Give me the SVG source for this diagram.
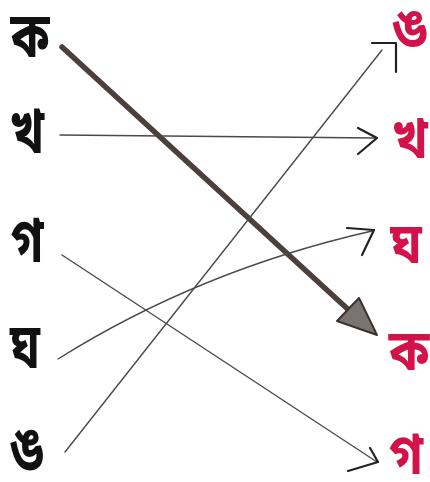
<svg xmlns="http://www.w3.org/2000/svg" width="430" height="482" viewBox="0 0 430 482">
<style>
.l{font-family:"Noto Sans Bengali","Noto Serif Bengali","Lohit Bengali","Noto Sans",sans-serif;font-weight:bold;font-size:48px;fill:#111;text-anchor:middle}
.r{font-family:"Noto Sans Bengali","Noto Serif Bengali","Lohit Bengali","Noto Sans",sans-serif;font-weight:bold;font-size:50px;fill:#d4124a;text-anchor:middle}
.t{fill:none;stroke:#4a4a4a;stroke-width:1.4;stroke-linecap:round;stroke-linejoin:round}
.a{fill:none;stroke:#222;stroke-width:2.2;stroke-linecap:round;stroke-linejoin:round}
</style>
<rect width="430" height="482" fill="#fff"/>
<g id="connectors">
<line x1="62" y1="47" x2="352" y2="313" stroke="#4d403c" stroke-width="5.5" stroke-linecap="round"/>
<polygon points="377,335 337,321 359,298" fill="#7a7470" stroke="#3a3230" stroke-width="2" stroke-linejoin="round"/>
<path class="t" d="M60,135 L376,138"/>
<polyline class="a" points="358,128 377,138 358,154"/>
<path class="t" d="M65,452 L382,50"/>
<polyline class="a" points="372,43 396,43 396,72"/>
<path class="t" d="M58,359 Q200,270 372,231"/>
<polyline class="a" points="347,228 374,230 362,255"/>
<path class="t" d="M62,255 L377,462"/>
<polyline class="a" points="370,448 378,462 348,471"/>
</g>
<g id="left-ka"><text class="l" transform="translate(30,57) scale(1,1.3)">ক</text></g>
<g id="left-kha"><text class="l" transform="translate(27,153) scale(1,1.3)">খ</text></g>
<g id="left-ga"><text class="l" transform="translate(27,262) scale(1,1.3)">গ</text></g>
<g id="left-gha"><text class="l" transform="translate(25,368) scale(1,1.3)">ঘ</text></g>
<g id="left-nga"><text class="l" transform="translate(27,470) scale(1,1.3)">ঙ</text></g>
<g id="right-nga"><text class="r" transform="translate(410,47) scale(1,1.1)">ঙ</text></g>
<g id="right-kha"><text class="r" transform="translate(410,158) scale(1,1.15)">খ</text></g>
<g id="right-gha"><text class="r" transform="translate(406,263) scale(1,1.15)">ঘ</text></g>
<g id="right-ka"><text class="r" transform="translate(409,370) scale(1,1.15)">ক</text></g>
<g id="right-ga"><text class="r" transform="translate(406,474) scale(1,1.15)">গ</text></g>
</svg>
